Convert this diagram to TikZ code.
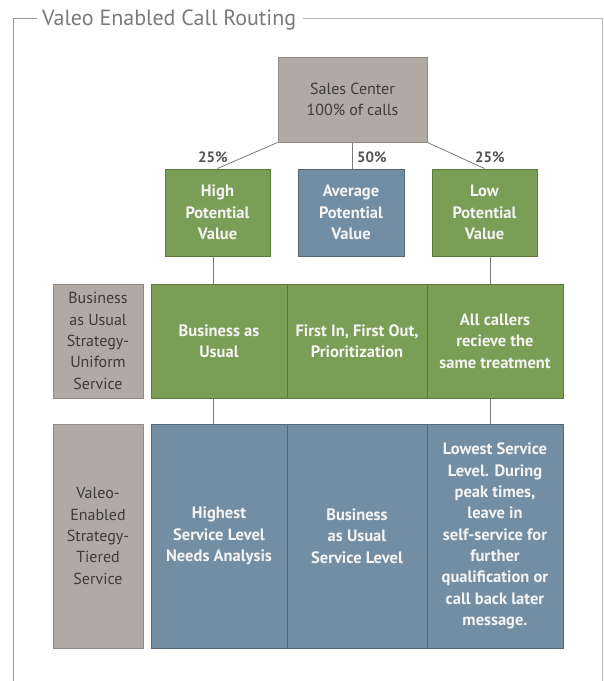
\documentclass[tikz,border=0pt]{standalone}
\usepackage{fontspec}
\setmainfont{PT Sans}
\definecolor{framegray}{HTML}{9A9A9A}
\definecolor{titlegray}{HTML}{7A7A7A}
\definecolor{boxgray}{HTML}{B1A9A3}
\definecolor{boxgrayline}{HTML}{918A85}
\definecolor{boxgreen}{HTML}{7A9E56}
\definecolor{greenline}{HTML}{5A7A3C}
\definecolor{boxblue}{HTML}{738EA3}
\definecolor{blueline}{HTML}{52677A}
\definecolor{textdark}{HTML}{3C3C3C}
\definecolor{pctgray}{HTML}{555555}
\definecolor{whitetext}{HTML}{F4F4F4}
\tikzset{
  graybox/.style={draw=boxgrayline, line width=1pt, fill=boxgray, text=textdark, align=center, inner sep=0pt,
    font=\fontsize{16}{21.3}\selectfont},
  greenbox/.style={draw=greenline, line width=1pt, fill=boxgreen, text=whitetext, align=center, inner sep=0pt,
    font=\bfseries\fontsize{16.5}{21.3}\selectfont},
  bluebox/.style={draw=blueline, line width=1pt, fill=boxblue, text=whitetext, align=center, inner sep=0pt,
    font=\bfseries\fontsize{16.5}{21.3}\selectfont},
  pct/.style={text=pctgray, font=\bfseries\fontsize{15}{16}\selectfont, inner sep=0pt},
  conn/.style={draw=framegray!80!black, line width=0.8pt},
  frameline/.style={draw=framegray, line width=1pt}
}
\begin{document}
\begin{tikzpicture}[x=1pt,y=-1pt]
\useasboundingbox (0,0) rectangle (604,681);
% frame and title
\node[anchor=west, text=titlegray, font=\fontsize{22}{24}\selectfont, inner sep=0pt] (title) at (42,19.5) {Valeo Enabled Call Routing};
\coordinate (fl) at (13,681);
\coordinate (fr) at (602,681);
\draw[frameline] (fl) -- (13,18) -- ([xshift=-5pt]title.west |- 0,18);
\draw[frameline, draw=framegray!70] ([xshift=7pt]title.east |- 0,18) -- (602,18) -- (fr);
% top
\node[graybox, minimum width=149, minimum height=85] (sales) at (352.5,99.5) {Sales Center\\100\% of calls};
\node[greenbox, minimum width=105, minimum height=87] (high) at (217.5,212.5) {High\\Potential\\Value};
\node[bluebox, minimum width=106, minimum height=87] (avg) at (351,212.5) {Average\\Potential\\Value};
\node[greenbox, minimum width=105, minimum height=87] (low) at (484.5,212.5) {Low\\Potential\\Value};
\draw[conn] (sales.south west) -- (high.north);
\draw[conn] (sales.south) -- (sales.south |- avg.north);
\draw[conn] (sales.south east) -- (low.north);
\node[pct] (p1) at (213,157) {25\%};
\node[pct] (p2) at (372,157) {50\%};
\node[pct] (p3) at (490,157) {25\%};
% row 2
\node[graybox, minimum width=90, minimum height=114] (g2) at (98,341) {Business\\as Usual\\Strategy-\\Uniform\\Service};
\node[greenbox, minimum width=136, minimum height=114] (c21) at (219,341) {Business as\\Usual};
\node[greenbox, minimum width=140, minimum height=114] (c22) at (357,341) {First In, First Out,\\Prioritization};
\node[greenbox, minimum width=136, minimum height=114] (c23) at (495,341) {All callers\\recieve the\\same treatment};
% row 3
\node[graybox, minimum width=90, minimum height=224] (g3) at (98,536) {Valeo-\\Enabled\\Strategy-\\Tiered\\Service};
\node[bluebox, minimum width=136, minimum height=224] (c31) at (219,536) {Highest\\Service Level\\Needs Analysis};
\node[bluebox, minimum width=140, minimum height=224] (c32) at (357,536) {Business\\as Usual\\Service Level};
\node[bluebox, minimum width=136, minimum height=224] (c33) at (495,536) {Lowest Service\\Level. During\\peak times,\\leave in\\self-service for\\further\\qualification or\\call back later\\message.};
% vertical connectors
\draw[conn] ([xshift=-4.5pt]high.south) -- ([xshift=-4.5pt]high.south |- c21.north);
\draw[conn] ([xshift=6pt]low.south) -- ([xshift=6pt]low.south |- c23.north);
\draw[conn] ([xshift=-4.5pt]high.south |- c21.south) -- ([xshift=-4.5pt]high.south |- c31.north);
\draw[conn] ([xshift=6pt]low.south |- c23.south) -- ([xshift=6pt]low.south |- c33.north);
\end{tikzpicture}
\end{document}
